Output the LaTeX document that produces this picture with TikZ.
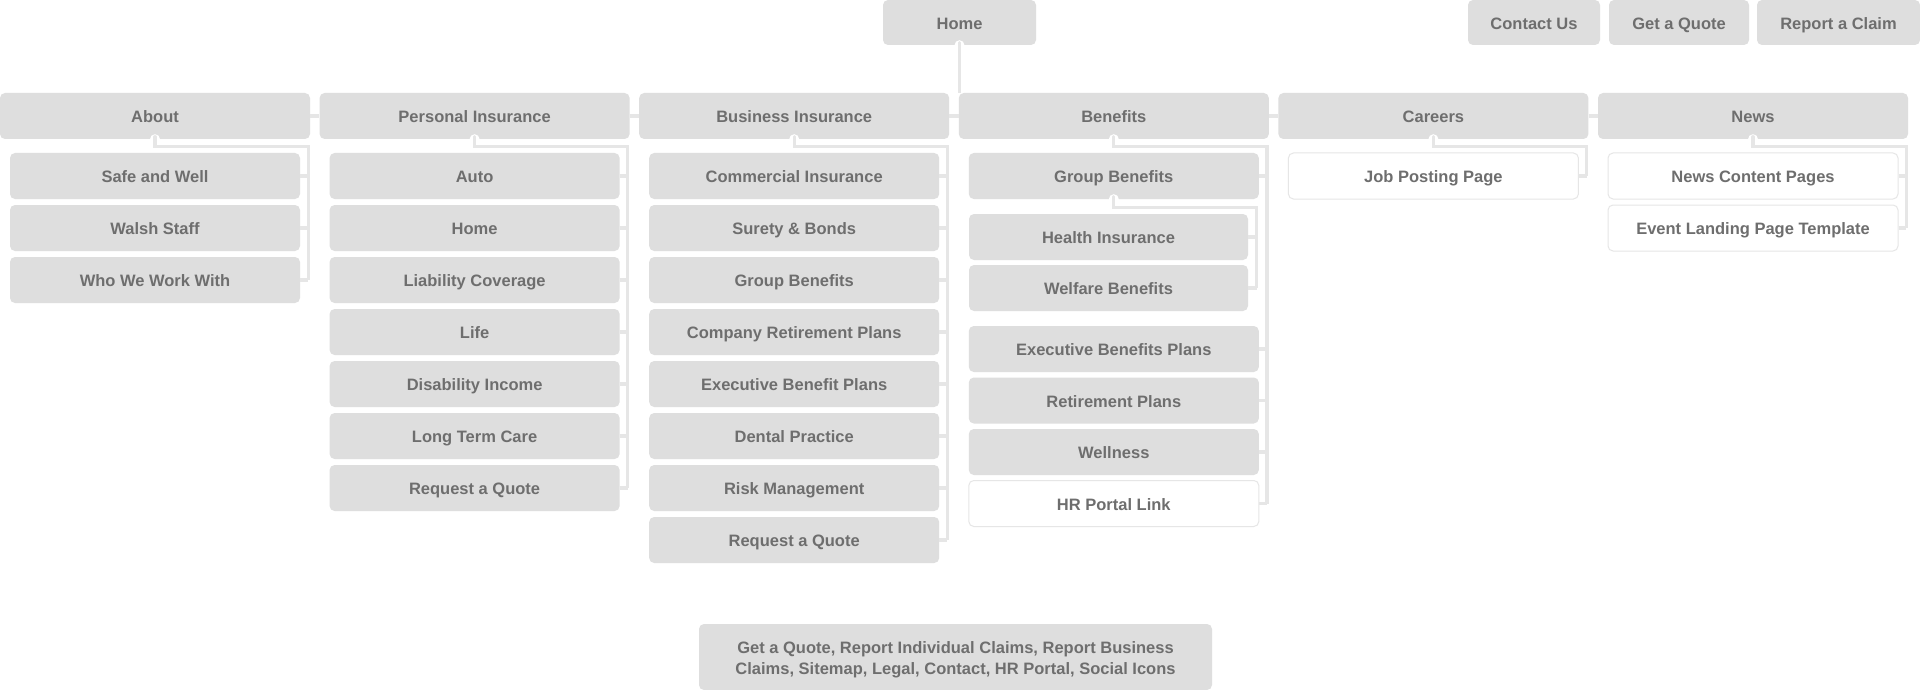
\documentclass[tikz,border=0pt]{standalone}
\usepackage{fontspec}
\setmainfont{Liberation Sans}
\definecolor{boxfill}{HTML}{DEDEDE}
\definecolor{txt}{HTML}{6E6E6E}
\definecolor{connc}{HTML}{E6E6E6}
\definecolor{wborder}{HTML}{E6E6E6}
\tikzset{
  basebox/.style={fill=boxfill, rounded corners=5pt, minimum height=46pt, minimum width=290pt,
    inner sep=0pt, text=txt, font=\fontsize{16.5}{21}\selectfont\bfseries, align=center},
  box/.style={basebox, text height=14.5pt, text depth=1pt},
  parentbox/.style={box, minimum width=310pt},
  wbox/.style={box, fill=white, draw=wborder, line width=1pt},
  conn/.style={draw=connc, line width=3.2pt},
}
\newcommand{\notch}[1]{%
  \fill[white] (#1.south) circle (5pt);
  \draw[conn, line cap=round] ([yshift=2.5pt]#1.south) -- ([yshift=-6pt]#1.south);
}
\begin{document}
\begin{tikzpicture}[x=1pt,y=-1pt]
\fill[white] (0,0) rectangle (1920,690);
\useasboundingbox (0,0) rectangle (1920,690);

% ---------- top row ----------
\node[box, minimum width=153pt, minimum height=45pt] (home) at (959.5,22.5) {Home};
\node[box, minimum width=132pt, minimum height=45pt] (contact) at (1534,22.5) {Contact Us};
\node[box, minimum width=140pt, minimum height=45pt] (quote) at (1679,22.5) {Get a Quote};
\node[box, minimum width=163pt, minimum height=45pt] (claim) at (1838.5,22.5) {Report a Claim};

% ---------- parents ----------
\node[parentbox] (about) at (155,116) {About};
\node[parentbox] (pers) at (474.6,116) {Personal Insurance};
\node[parentbox] (bus) at (794.2,116) {Business Insurance};
\node[parentbox] (ben) at (1113.8,116) {Benefits};
\node[parentbox] (car) at (1433.4,116) {Careers};
\node[parentbox] (news) at (1753,116) {News};

% ---------- About ----------
\node[box] (a1) at (155,176) {Safe and Well};
\node[box] (a2) at (155,228) {Walsh Staff};
\node[box] (a3) at (155,280) {Who We Work With};

% ---------- Personal Insurance ----------
\node[box] (p1) at (474.6,176) {Auto};
\node[box] (p2) at (474.6,228) {Home};
\node[box] (p3) at (474.6,280) {Liability Coverage};
\node[box] (p4) at (474.6,332) {Life};
\node[box] (p5) at (474.6,384) {Disability Income};
\node[box] (p6) at (474.6,436) {Long Term Care};
\node[box] (p7) at (474.6,488) {Request a Quote};

% ---------- Business Insurance ----------
\node[box] (b1) at (794.2,176) {Commercial Insurance};
\node[box] (b2) at (794.2,228) {Surety \& Bonds};
\node[box] (b3) at (794.2,280) {Group Benefits};
\node[box] (b4) at (794.2,332) {Company Retirement Plans};
\node[box] (b5) at (794.2,384) {Executive Benefit Plans};
\node[box] (b6) at (794.2,436) {Dental Practice};
\node[box] (b7) at (794.2,488) {Risk Management};
\node[box] (b8) at (794.2,540) {Request a Quote};

% ---------- Benefits ----------
\node[box] (g1) at (1113.8,176) {Group Benefits};
\node[box, minimum width=279pt] (h1) at (1108.5,237) {Health Insurance};
\node[box, minimum width=279pt] (h2) at (1108.5,288) {Welfare Benefits};
\node[box] (g2) at (1113.8,349) {Executive Benefits Plans};
\node[box] (g3) at (1113.8,400.5) {Retirement Plans};
\node[box] (g4) at (1113.8,452) {Wellness};
\node[wbox] (g5) at (1113.8,503.5) {HR Portal Link};

% ---------- Careers ----------
\node[wbox] (c1) at (1433.4,176) {Job Posting Page};

% ---------- News ----------
\node[wbox] (n1) at (1753,176) {News Content Pages};
\node[wbox] (n2) at (1753,228) {Event Landing Page Template};

% ---------- footer ----------
\node[basebox, minimum width=513pt, minimum height=66pt, text height=35.4pt, text depth=1.3pt] (foot) at (955.5,657)
  {Get a Quote, Report Individual Claims, Report Business\\Claims, Sitemap, Legal, Contact, HR Portal, Social Icons};

% ---------- connectors ----------
\coordinate (aboutR) at ([xshift=-2pt]about.east);
\coordinate (persR) at ([xshift=-2pt]pers.east);
\coordinate (busR) at ([xshift=-2pt]bus.east);
\coordinate (benR) at ([xshift=-2pt]ben.east);
\coordinate (gR) at ([xshift=-2.5pt]g1.east);
\coordinate (carR) at ([xshift=-2pt]car.east);
\coordinate (newsR) at ([xshift=-2pt]news.east);

% row line and home line (drawn in gaps)
\draw[conn] (about.east) -- (pers.west);
\draw[conn] (pers.east) -- (bus.west);
\draw[conn] (bus.east) -- (ben.west);
\draw[conn] (ben.east) -- (car.west);
\draw[conn] (car.east) -- (news.west);
\draw[conn] (home.south) -- (home.south |- ben.north);

% column connectors
\draw[conn] (about.south) -- ++(0,7) -| (aboutR |- a3.east);
\foreach \i in {1,...,3} \draw[conn] (a\i.east) -- (aboutR |- a\i.east);

\draw[conn] (pers.south) -- ++(0,7) -| (persR |- p7.east);
\foreach \i in {1,...,7} \draw[conn] (p\i.east) -- (persR |- p\i.east);

\draw[conn] (bus.south) -- ++(0,7) -| (busR |- b8.east);
\foreach \i in {1,...,8} \draw[conn] (b\i.east) -- (busR |- b\i.east);

\draw[conn] (ben.south) -- ++(0,7) -| (benR |- g5.east);
\foreach \i in {1,...,5} \draw[conn] (g\i.east) -- (benR |- g\i.east);
\draw[conn] (g1.south) -- ++(0,8) -| (gR |- h2.east);
\foreach \i in {1,2} \draw[conn] (h\i.east) -- (gR |- h\i.east);

\draw[conn] (car.south) -- ++(0,7) -| (carR |- c1.east);
\draw[conn] (c1.east) -- (carR |- c1.east);

\draw[conn] (news.south) -- ++(0,7) -| (newsR |- n2.east);
\foreach \i in {1,2} \draw[conn] (n\i.east) -- (newsR |- n\i.east);

% notches at parent bottoms
\notch{home}
\notch{about}
\notch{pers}
\notch{bus}
\notch{ben}
\notch{g1}
\notch{car}
\notch{news}
\end{tikzpicture}
\end{document}
